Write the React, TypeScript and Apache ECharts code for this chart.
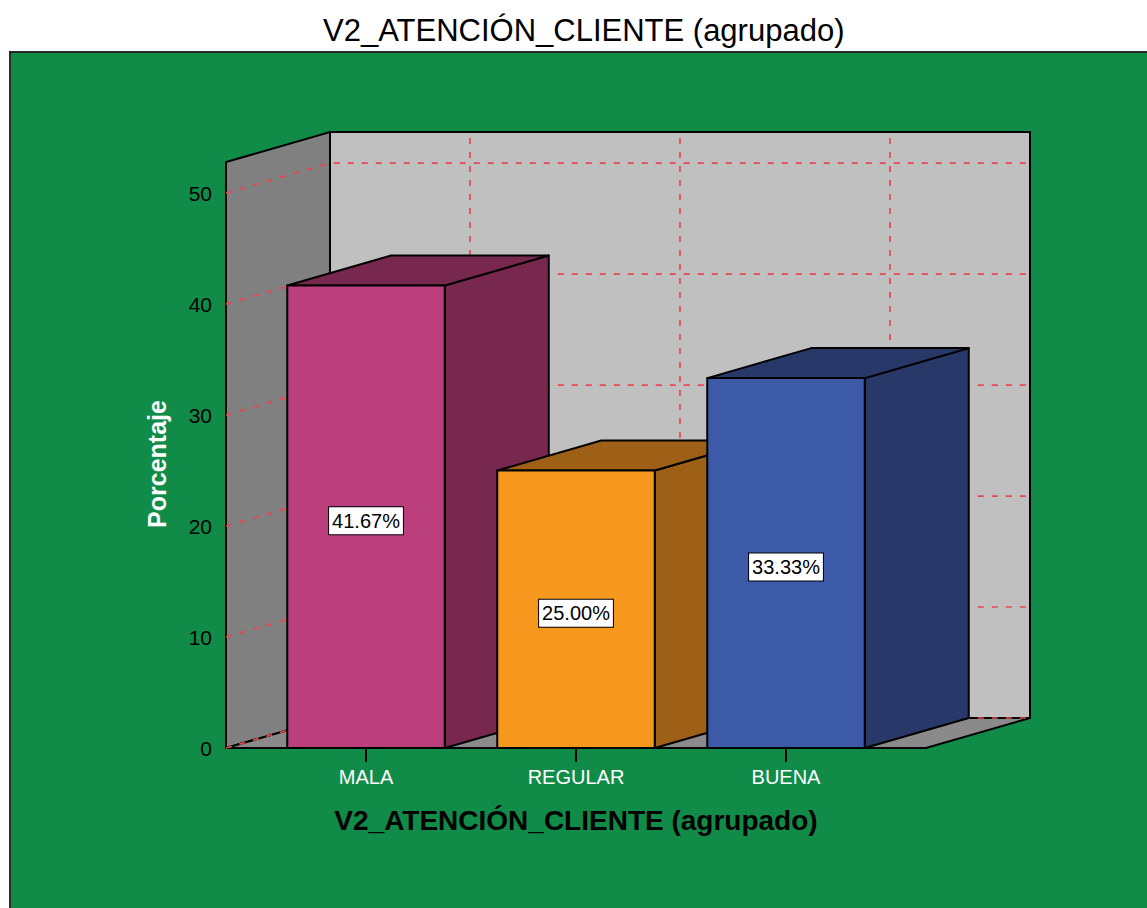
import React, { useEffect, useRef } from "react";
import * as echarts from "echarts";

const TITLE = "V2_ATENCIÓN_CLIENTE (agrupado)";
const CATEGORIES = ["MALA", "REGULAR", "BUENA"];
const VALUES = [41.67, 25.0, 33.33];
const Y_TICKS = [0, 10, 20, 30, 40, 50];
const Y_MAX = 52.8;
const X_MIN = -2 / 3;
const X_MAX = 8 / 3;

const FRONT_COLORS = ["#bb3f7c", "#f7981e", "#3d5aa9"];
const DARK_COLORS = ["#78284f", "#9e6016", "#273869"];
const DX = 104;
const DY = -30;
const BAR_HALF = 0.375;
const FONT = "'Liberation Sans', Arial, sans-serif";

export default function App() {
  const ref = useRef<HTMLDivElement>(null);
  useEffect(() => {
    if (!ref.current) return;
    const chart = echarts.init(ref.current, null, { renderer: "svg" });
    const option: any = {
      animation: false,
      backgroundColor: "#ffffff",
      textStyle: { fontFamily: FONT },
      title: {
        text: TITLE,
        left: 318,
        top: 10,
        textStyle: { fontSize: 31, fontWeight: "normal", color: "#000", fontFamily: FONT },
      },
      graphic: [
        {
          type: "rect",
          z: -10,
          shape: { x: 10, y: 52, width: 1150, height: 870 },
          style: { fill: "#108c48", stroke: "#2a2a2a", lineWidth: 2 },
        },
      ],
      grid: { left: 226, right: 221, top: 162, bottom: 160 },
      xAxis: {
        type: "value",
        min: X_MIN,
        max: X_MAX,
        splitLine: { show: false },
        axisLine: { show: true, lineStyle: { color: "#000", width: 2 } },
        axisTick: {
          show: true,
          customValues: [0, 1, 2],
          length: 14,
          lineStyle: { color: "#000", width: 2 },
        },
        axisLabel: {
          customValues: [0, 1, 2],
          formatter: (v: number) => CATEGORIES[Math.round(v)] ?? "",
          color: "#fff",
          fontSize: 20,
          margin: 19,
          fontFamily: FONT,
        },
        name: TITLE,
        nameLocation: "middle",
        nameGap: 58,
        nameTextStyle: { color: "#000", fontSize: 28, fontWeight: "bold", fontFamily: FONT },
      },
      yAxis: {
        type: "value",
        min: 0,
        max: Y_MAX,
        splitLine: { show: false },
        axisLine: { show: true, lineStyle: { color: "#000", width: 2 } },
        axisTick: {
          show: true,
          customValues: Y_TICKS,
          length: 12,
          lineStyle: { color: "#000", width: 2 },
        },
        axisLabel: {
          customValues: Y_TICKS,
          color: "#000",
          fontSize: 21,
          margin: 14,
          fontFamily: FONT,
        },
        name: "Porcentaje",
        nameLocation: "middle",
        nameRotate: 90,
        nameGap: 57,
        nameTextStyle: {
          color: "#fff",
          fontSize: 25,
          fontWeight: "bold",
          fontFamily: FONT,
          padding: [0, 18, 0, 0],
        },
      },
      series: [
        {
          type: "custom",
          z: 1,
          silent: true,
          data: [[0, 0]],
          renderItem: (params: any, api: any) => {
            const cs = params.coordSys;
            const x0 = cs.x;
            const x1 = cs.x + cs.width;
            const y0 = cs.y;
            const yb = cs.y + cs.height;
            const children: any[] = [];
            children.push({
              type: "rect",
              shape: { x: x0 + DX, y: y0 + DY, width: x1 - x0, height: yb - y0 },
              style: { fill: "#c0c0c0", stroke: "#000", lineWidth: 2 },
            });
            children.push({
              type: "polygon",
              shape: { points: [[x0, yb], [x0 + DX, yb + DY], [x0 + DX, y0 + DY], [x0, y0]] },
              style: { fill: "#808080", stroke: "#000", lineWidth: 2 },
            });
            children.push({
              type: "polygon",
              shape: { points: [[x0, yb], [x1, yb], [x1 + DX, yb + DY], [x0 + DX, yb + DY]] },
              style: { fill: "#8a8a8a", stroke: "#000", lineWidth: 2 },
            });
            const dash = { stroke: "#e8474f", lineWidth: 1.7, lineDash: [6, 8] };
            Y_TICKS.forEach((v) => {
              const py = api.coord([0, v])[1];
              children.push({
                type: "polyline",
                shape: { points: [[x0, py], [x0 + DX, py + DY], [x1 + DX, py + DY]] },
                style: { ...dash, fill: null },
              });
            });
            CATEGORIES.forEach((_, i) => {
              const px = api.coord([i, 0])[0] + DX;
              children.push({
                type: "line",
                shape: { x1: px, y1: yb + DY, x2: px, y2: y0 + DY },
                style: dash,
              });
            });
            return { type: "group", children };
          },
        },
        {
          type: "custom",
          z: 2,
          data: CATEGORIES.map((c, i) => [i, VALUES[i]]),
          renderItem: (params: any, api: any) => {
            const i = api.value(0);
            const v = api.value(1);
            const tl = api.coord([i - BAR_HALF, v]);
            const br = api.coord([i + BAR_HALF, 0]);
            const idx = params.dataIndex;
            const edge = { stroke: "#000", lineWidth: 2, lineJoin: "round" };
            return {
              type: "group",
              children: [
                {
                  type: "polygon",
                  shape: {
                    points: [
                      [br[0], tl[1]],
                      [br[0] + DX, tl[1] + DY],
                      [br[0] + DX, br[1] + DY],
                      [br[0], br[1]],
                    ],
                  },
                  style: { fill: DARK_COLORS[idx], ...edge },
                },
                {
                  type: "polygon",
                  shape: {
                    points: [
                      [tl[0], tl[1]],
                      [tl[0] + DX, tl[1] + DY],
                      [br[0] + DX, tl[1] + DY],
                      [br[0], tl[1]],
                    ],
                  },
                  style: { fill: DARK_COLORS[idx], ...edge },
                },
                {
                  type: "rect",
                  shape: { x: tl[0], y: tl[1], width: br[0] - tl[0], height: br[1] - tl[1] },
                  style: { fill: FRONT_COLORS[idx], ...edge },
                },
                {
                  type: "text",
                  x: (tl[0] + br[0]) / 2,
                  y: (tl[1] + br[1]) / 2 + 4,
                  style: {
                    text: v.toFixed(2) + "%",
                    fontSize: 20,
                    fontFamily: FONT,
                    fill: "#000",
                    align: "center",
                    verticalAlign: "middle",
                    backgroundColor: "#fff",
                    borderColor: "#000",
                    borderWidth: 1,
                    padding: [4, 3, 3, 3],
                  },
                },
              ],
            };
          },
        },
      ],
    };
    chart.setOption(option);
    return () => chart.dispose();
  }, []);
  return (
    <div
      ref={ref}
      style={{ position: "absolute", left: 0, top: 0, width: 1147, height: 908 }}
    />
  );
}
